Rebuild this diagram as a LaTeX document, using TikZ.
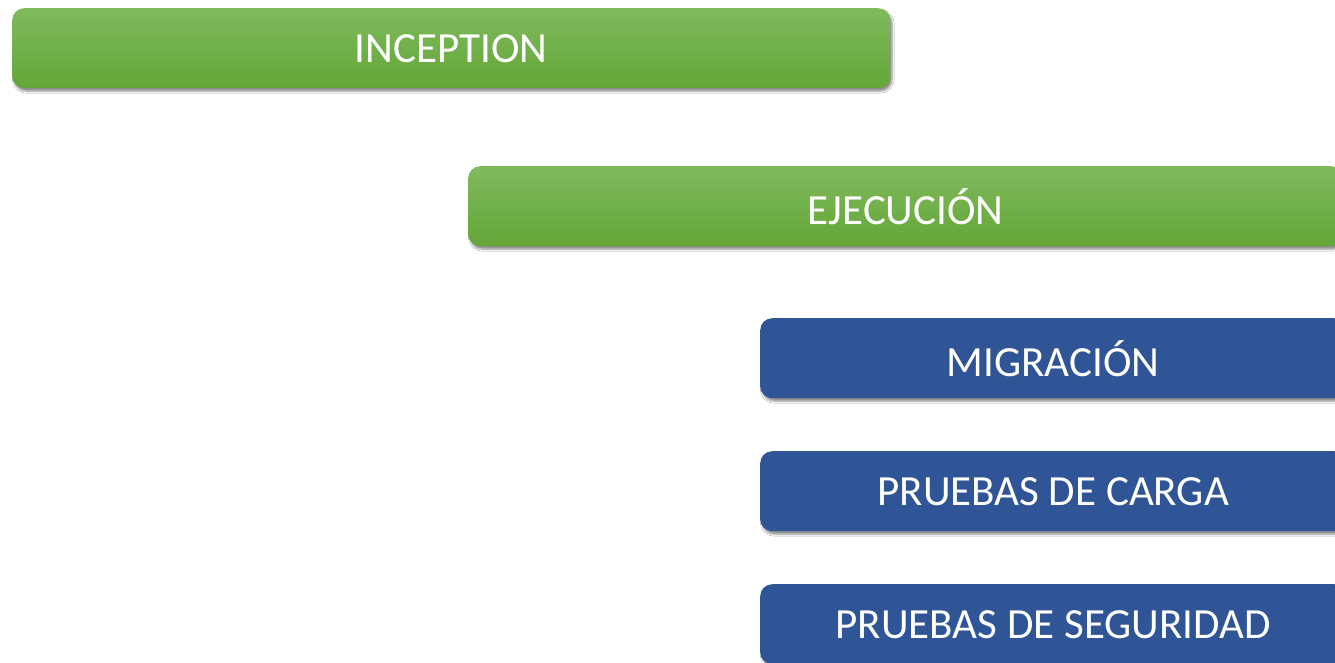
\documentclass[tikz,border=0pt]{standalone}
\usepackage{fontspec}
\setmainfont{Carlito}
\usetikzlibrary{shadows.blur}
\definecolor{gtop}{HTML}{80BA5D}
\definecolor{gbot}{HTML}{63A637}
\definecolor{bluebox}{HTML}{2F5597}
\tikzset{
  box/.style={rounded corners=12pt, anchor=north west, inner sep=0pt,
    minimum height=80pt, text=white, font=\fontsize{43}{48}\selectfont,
    blur shadow={shadow xshift=2pt, shadow yshift=-3pt, shadow blur steps=6, shadow blur extra rounding=2pt, shadow opacity=45}},
  greenbox/.style={box, top color=gtop, bottom color=gbot},
  bluebx/.style={box, fill=bluebox}
}
\begin{document}
\begin{tikzpicture}[x=1pt,y=1pt]
\useasboundingbox (0,0) rectangle (1335,-662);
\clip (0,0) rectangle (1335,-662);
\fill[white] (0,0) rectangle (1335,-662);
\node[greenbox, minimum width=878pt] (inc) at (12,-8) {INCEPTION};
\node[greenbox, minimum width=875pt] (eje) at (468,-166) {EJECUCIÓN};
\node[bluebx, minimum width=586pt] (mig) at (760,-318) {MIGRACIÓN};
\node[bluebx, minimum width=586pt] (car) at (760,-451) {PRUEBAS DE CARGA};
\node[bluebx, minimum width=586pt] (seg) at (760,-584) {PRUEBAS DE SEGURIDAD};
\end{tikzpicture}
\end{document}
